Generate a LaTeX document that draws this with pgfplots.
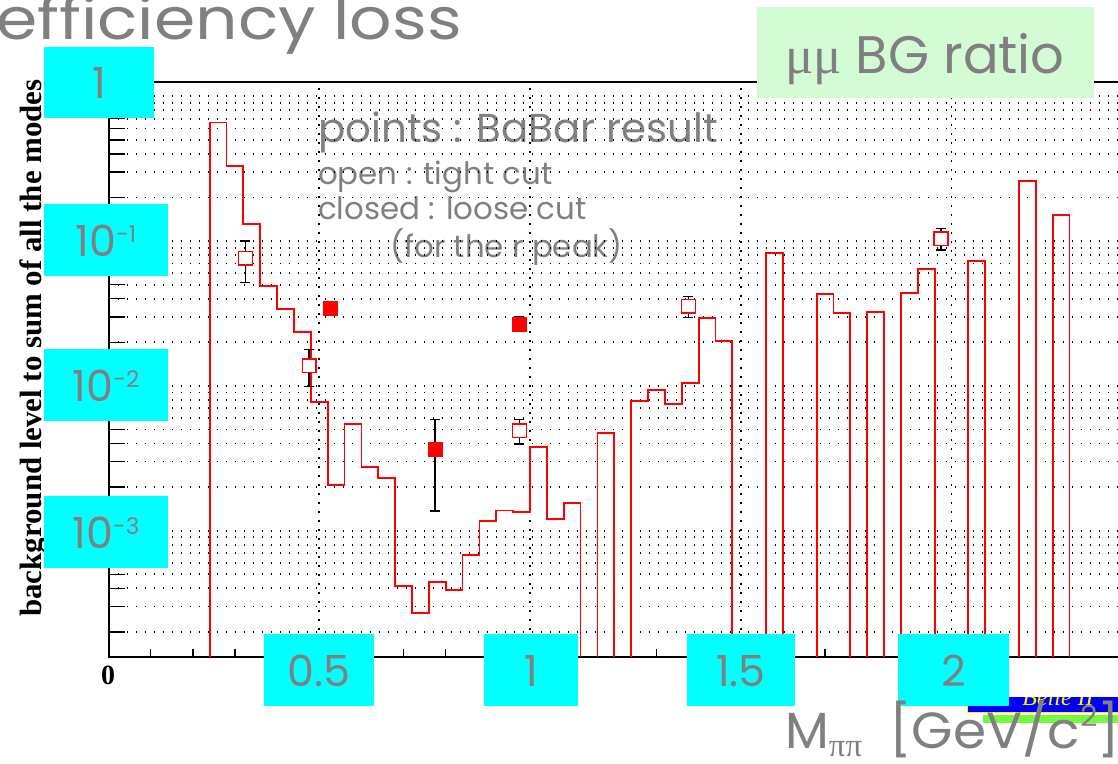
\documentclass[border=0pt]{standalone}
\usepackage{pgfplots}
\pgfplotsset{compat=1.18}
\usepackage{fontspec}
\setmainfont{Poppins}
\newfontfamily\serifb{Liberation Serif}
\newfontfamily\greek{Liberation Serif}
\definecolor{txtgray}{RGB}{128,128,128}
\definecolor{cyanbox}{RGB}{0,255,255}
\definecolor{greenbox}{RGB}{212,252,212}
\definecolor{belleblue}{RGB}{0,0,250}
\definecolor{bellegreen}{RGB}{115,250,60}
\newcommand\fs[1]{\fontsize{#1}{#1}\selectfont}
\begin{document}
\begin{tikzpicture}
\useasboundingbox (0,0) rectangle (1118bp,764bp);
\clip (0,0) rectangle (1118bp,764bp);
% annotations behind the grid
\begin{scope}[x=1bp,y=-1bp,yshift=764bp]
\node[anchor=base east, text=txtgray, inner sep=0pt, font=\fs{58}, xscale=1.15] at (462,40) {efficiency loss};
\node[anchor=base west, text=txtgray, inner sep=0pt, font=\fs{40.5}] at (318,143) {points : BaBar result};
\node[anchor=base west, text=txtgray, inner sep=0pt, font=\fs{31}] at (318,185) {open : tight cut};
\node[anchor=base west, text=txtgray, inner sep=0pt, font=\fs{31}] at (318,220) {closed : loose cut};
\node[anchor=base west, text=txtgray, inner sep=0pt, font=\fs{31}] at (390,258) {(for the r peak)};
\node[anchor=base, rotate=90, inner sep=0pt, font=\serifb\bfseries\fs{31}] at (41,348) {background level to sum of all the modes};
\node[anchor=base, inner sep=0pt, font=\serifb\bfseries\fs{28}] at (108,685) {0};
\end{scope}
\begin{axis}[
  at={(108.5bp,107.3bp)}, anchor=south west,
  scale only axis, width=1011.6bp, height=574.7bp,
  xmin=0, xmax=2.4, ymode=log, ymin=1.349e-4, ymax=1.255,
  xtick={0,0.5,1,1.5,2}, minor x tick num=4,
  ytick={2e-4,3e-4,4e-4,5e-4,6e-4,7e-4,8e-4,9e-4,1e-3,2e-3,3e-3,4e-3,5e-3,6e-3,7e-3,8e-3,9e-3,0.01,0.02,0.03,0.04,0.05,0.06,0.07,0.08,0.09,0.1,0.2,0.3,0.4,0.5,0.6,0.7,0.8,0.9,1},
  yminorticks=false,
  xticklabels={}, yticklabels={},
  tick pos=left, tick align=inside,
  major tick length=16bp, minor tick length=8bp,
  tick style={black, line width=1.4bp},
  xmajorgrids, ymajorgrids,
  major grid style={black, line width=1.7bp, dash pattern=on 1.7bp off 7.3bp},
  axis line style={black, line width=2bp},
]
\addplot[red, line width=1.8bp, const plot, mark=none] coordinates {
(0,1e-6) (0.24,0.66) (0.28,0.33) (0.32,0.131) (0.36,0.0488) (0.40,0.0338) (0.44,0.0237)
(0.48,0.00778) (0.52,0.00207) (0.56,0.00543) (0.60,0.00274) (0.64,0.00232)
(0.68,4.17e-4) (0.72,2.72e-4) (0.76,4.45e-4) (0.80,3.89e-4) (0.84,6.79e-4)
(0.88,1.17e-3) (0.92,1.38e-3) (0.96,1.34e-3) (1.00,3.80e-3) (1.04,1.20e-3) (1.08,1.56e-3)
(1.12,1e-6) (1.16,4.71e-3) (1.20,1e-6) (1.24,7.9e-3) (1.28,9.37e-3) (1.32,7.5e-3) (1.36,0.0105)
(1.40,0.0296) (1.44,0.0205) (1.48,1e-6) (1.52,1e-6) (1.56,0.0832) (1.60,1e-6) (1.64,1e-6)
(1.68,0.0429) (1.72,0.0317) (1.76,1e-6) (1.80,0.0322) (1.84,1e-6) (1.88,0.0436) (1.92,0.0642)
(1.96,1e-6) (2.00,1e-6) (2.04,0.0729) (2.08,1e-6) (2.12,1e-6) (2.16,0.261) (2.20,1e-6)
(2.24,0.152) (2.28,1e-6) (2.40,1e-6)
};
% error bars first (drawn under the markers)
\addplot[only marks, mark=none,
  error bars/.cd, y dir=both, y explicit, error mark=|,
  error bar style={black, line width=1.4bp},
  error mark options={black, mark size=5bp, line width=1.4bp}]
coordinates {
(0.325,0.076) += (0,0.0242) -= (0,0.0244)
(0.476,0.0138) += (0,0.0041) -= (0,0.00392)
(0.975,0.0049) += (0,0.00097) -= (0,0.00093)
(1.376,0.0356) += (0,0.0057) -= (0,0.0058)
(1.975,0.104) += (0,0.018) -= (0,0.0172)
(0.526,0.0343) += (0,0.002) -= (0,0.0033)
(0.975,0.0267) += (0,0.0033) -= (0,0.003)
(0.775,0.00365) += (0,0.00223) -= (0,0.00228)
};
% open squares: tight cut
\addplot[only marks, mark=square*, mark size=6.8bp, mark options={draw=red, fill=white, line width=1.5bp, solid}]
coordinates {(0.325,0.076) (0.476,0.0138) (0.975,0.0049) (1.376,0.0356) (1.975,0.104)};
% filled squares: loose cut
\addplot[only marks, mark=square*, mark size=7bp, mark options={draw=red, fill=red, line width=0.5bp, solid}]
coordinates {(0.526,0.0343) (0.975,0.0267) (0.775,0.00365)};
\end{axis}
% overlays
\begin{scope}[x=1bp,y=-1bp,yshift=764bp]
% Belle II logo (partly hidden)
\begin{scope}
\clip (967,698) rectangle (1118,713.5);
\fill[belleblue, draw=yellow, line width=1bp] (967,690) rectangle (1125,713);
\node[anchor=base, inner sep=0pt, text=yellow, font=\serifb\itshape\fs{24}] at (1058,706) {Belle II};
\end{scope}
\fill[bellegreen] (983,715) rectangle (1118,723);
% cyan label boxes
\fill[cyanbox] (44,47) rectangle (154,118);
\fill[cyanbox] (44,204) rectangle (168,276);
\fill[cyanbox] (44,349) rectangle (168,421);
\fill[cyanbox] (44,496) rectangle (168,568);
\fill[cyanbox] (264,634) rectangle (374,706);
\fill[cyanbox] (484,634) rectangle (578,706);
\fill[cyanbox] (687,634) rectangle (795,706);
\fill[cyanbox] (898,634) rectangle (1009,706);
\begin{scope}[every node/.style={anchor=base, inner sep=0pt, text=txtgray, font=\fs{43}}]
\node at (99,99) {1};
\node at (106,257) {10\raisebox{14bp}{\fs{23}-1}};
\node at (106,402) {10\raisebox{14bp}{\fs{23}-2}};
\node at (106,549) {10\raisebox{14bp}{\fs{23}-3}};
\node at (319,687) {0.5};
\node at (531,687) {1};
\node at (741,687) {1.5};
\node at (953.5,687) {2};
\end{scope}
% green box
\fill[greenbox] (757,7) rectangle (1094,98);
\node[anchor=base, inner sep=0pt, text=txtgray, font=\fs{53}] at (925,74) {{\greek μμ} BG ratio};
% x axis title
\node[anchor=base west, inner sep=0pt, text=txtgray, font=\fs{51}] at (785,749) {M\raisebox{-8bp}{\greek\fs{33}ππ}\hspace{27bp}\scalebox{1.05}[1]{[GeV/c\raisebox{22bp}{\fs{29}2}]}};
\end{scope}
\end{tikzpicture}
\end{document}
